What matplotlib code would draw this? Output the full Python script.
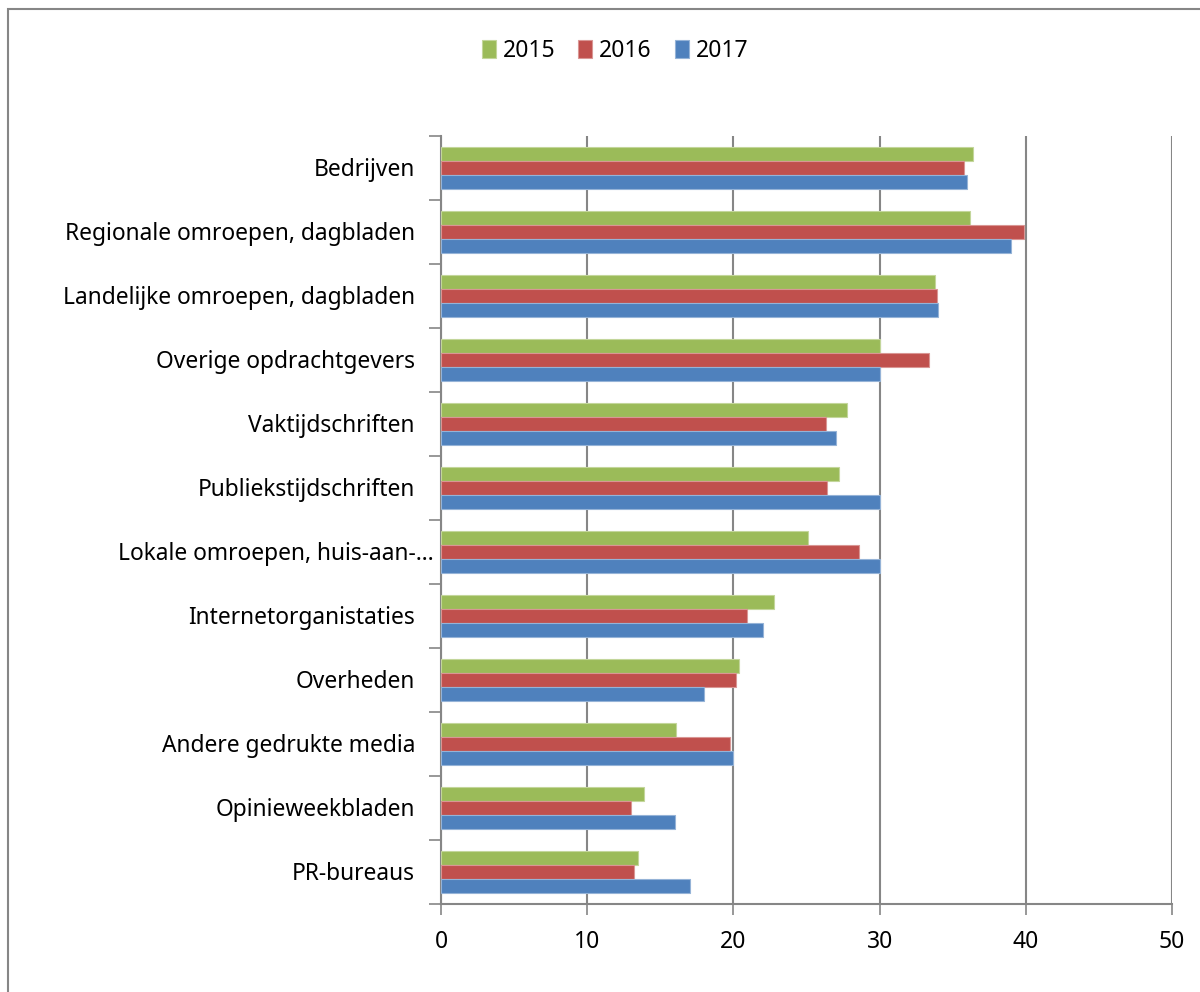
import matplotlib.pyplot as plt
import matplotlib.patches as mpatches
import numpy as np

plt.rcParams['font.family'] = ['Noto Sans', 'DejaVu Sans']

categories = ['Bedrijven', 'Regionale omroepen, dagbladen', 'Landelijke omroepen, dagbladen',
              'Overige opdrachtgevers', 'Vaktijdschriften', 'Publiekstijdschriften',
              'Lokale omroepen, huis-aan-…', 'Internetorganistaties', 'Overheden',
              'Andere gedrukte media', 'Opinieweekbladen', 'PR-bureaus']
v2015 = [36.4, 36.2, 33.8, 30.0, 27.8, 27.2, 25.1, 22.8, 20.4, 16.1, 13.9, 13.5]
v2016 = [35.8, 39.9, 33.9, 33.4, 26.3, 26.4, 28.6, 20.9, 20.2, 19.8, 13.0, 13.2]
v2017 = [36.0, 39.0, 34.0, 30.0, 27.0, 30.0, 30.0, 22.0, 18.0, 20.0, 16.0, 17.0]
years = ['2015', '2016', '2017']
colors = ['#9BBB59', '#C0504D', '#4F81BD']
edges = ['#C3D69B', '#D99694', '#95B3D7']

fig = plt.figure(figsize=(12, 9.92), dpi=100)
ax = fig.add_axes([441/1200, 88/992, 731/1200, 768/992])

# outer chart border
fig.patches.append(mpatches.Rectangle((8/1200, -0.1), 1.2, 1.1 - 9/992,
                                      transform=fig.transFigure, fill=False,
                                      edgecolor='#868686', linewidth=1.5))

n = len(categories)
y = np.arange(n)[::-1].astype(float)
h = 0.22
series = [v2015, v2016, v2017]
for i, vals in enumerate(series):
    ax.barh(y + (1 - i) * h, vals, height=h, color=colors[i], edgecolor=edges[i],
            linewidth=0.8, label=years[i], zorder=3)

ax.set_xlim(0, 50)
ax.set_ylim(-0.5, n - 0.5)
ax.set_xticks(np.arange(0, 51, 10))
ax.tick_params(axis='x', labelsize=16.5, length=8, width=1.2, color='#868686', pad=11)
ax.grid(axis='x', color='#868686', linewidth=1.5, zorder=0)

ax.set_yticks(np.arange(n + 1) - 0.5)
ax.set_yticklabels([])
ax.tick_params(axis='y', length=9, width=1.2, color='#868686')
for yy, lab in zip(y, categories):
    dx = -26 if not lab.endswith('…') else -7
    ax.annotate(lab, xy=(0, yy), xycoords=('axes fraction', 'data'),
                xytext=(dx * 0.72, -1.5), textcoords='offset points',
                ha='right', va='center', fontsize=16.4)

for s in ['top', 'right']:
    ax.spines[s].set_visible(False)
for s in ['left', 'bottom']:
    ax.spines[s].set_color('#868686')
    ax.spines[s].set_linewidth(1.5)

handles, labels = ax.get_legend_handles_labels()
fig.legend(handles, labels, loc='center', bbox_to_anchor=(615/1200, 1 - 51/992),
           ncol=3, frameon=False, fontsize=16.5, handlelength=0.62, handleheight=0.8,
           handletextpad=0.3, columnspacing=1.0)

fig.savefig('out.png', dpi=100)
